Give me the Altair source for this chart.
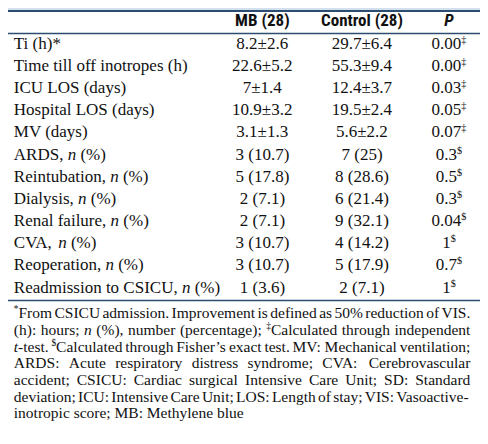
import re
import altair as alt
import pandas as pd

# ---------------- data ----------------
row_labels = [
    "Ti (h)*",
    "Time till off inotropes (h)",
    "ICU LOS (days)",
    "Hospital LOS (days)",
    "MV (days)",
    "ARDS, _n_ (%)",
    "Reintubation, _n_ (%)",
    "Dialysis, _n_ (%)",
    "Renal failure, _n_ (%)",
    "CVA, _n_ (%)",
    "Reoperation, _n_ (%)",
    "Readmission to CSICU, _n_ (%)",
]
mb_values = ["8.2±2.6", "22.6±5.2", "7±1.4", "10.9±3.2", "3.1±1.3", "3 (10.7)",
             "5 (17.8)", "2 (7.1)", "2 (7.1)", "3 (10.7)", "3 (10.7)", "1 (3.6)"]
control_values = ["29.7±6.4", "55.3±9.4", "12.4±3.7", "19.5±2.4", "5.6±2.2", "7 (25)",
                  "8 (28.6)", "6 (21.4)", "9 (32.1)", "4 (14.2)", "5 (17.9)", "2 (7.1)"]
p_values = ["0.00", "0.00", "0.03", "0.05", "0.07", "0.3", "0.5", "0.3", "0.04", "1", "0.7", "1"]
p_marks = ["‡", "‡", "‡", "‡", "‡", "$", "$", "$", "$", "$", "$", "$"]
header_cols = ["MB (28)", "Control (28)"]
header_p = "P"
footnote_lines = [
    "^*^From CSICU admission. Improvement is defined as 50% reduction of VIS.",
    "(h): hours; _n_ (%), number (percentage); ^‡^Calculated through independent",
    "_t_-test. ^$^Calculated through Fisher’s exact test. MV: Mechanical ventilation;",
    "ARDS: Acute respiratory distress syndrome; CVA: Cerebrovascular",
    "accident; CSICU: Cardiac surgical Intensive Care Unit; SD: Standard",
    "deviation; ICU: Intensive Care Unit; LOS: Length of stay; VIS: Vasoactive-",
    "inotropic score; MB: Methylene blue",
]

# ---------------- layout ----------------
W, H = 472, 428
SX, SY = 472 / 488, 428 / 444
LABEL_X = 6 * SX
TEXT_R = 478 * SX
COL_CX = [263 * SX, 366 * SX]
P_CX = 456 * SX
HEADER_Y = 14 * SY
ROW_Y0, ROW_STEP = 37 * SY, 23.0 * SY
NOTE_Y0, NOTE_STEP = 316.5 * SY, 17.35 * SY
BODY_SIZE, NOTE_SIZE, SUP_RATIO = 17, 15.5, 0.6
SERIF = "Liberation Serif, Times New Roman, serif"
HEAD_FONT = "Liberation Sans Narrow, Arial Narrow, Roboto Condensed, Liberation Sans, sans-serif"
INK = "#111111"
LINE = "#2c4d70"

# Times / Liberation Serif advance widths (per 1000 em)
TW = {" ": 250, "!": 333, "%": 833, "'": 333, "’": 333, "(": 333, ")": 333, "*": 500,
      ",": 250, "-": 333, ".": 250, ":": 278, ";": 278, "±": 564, "‡": 500, "$": 500, "§": 500,
      "A": 722, "B": 667, "C": 667, "D": 722, "E": 611, "F": 556, "G": 722, "H": 722, "I": 333,
      "J": 389, "K": 722, "L": 611, "M": 889, "N": 722, "O": 722, "P": 556, "Q": 722, "R": 667,
      "S": 556, "T": 611, "U": 722, "V": 722, "W": 944, "X": 722, "Y": 722, "Z": 611,
      "a": 444, "b": 500, "c": 444, "d": 500, "e": 444, "f": 333, "g": 500, "h": 500, "i": 278,
      "j": 278, "k": 500, "l": 278, "m": 778, "n": 500, "o": 500, "p": 500, "q": 500, "r": 333,
      "s": 389, "t": 278, "u": 500, "v": 500, "w": 722, "x": 500, "y": 500, "z": 444}


def tw(text, size):
    return sum(TW.get(ch, 500) for ch in text) * size / 1000.0


def parse(s):
    runs = []
    for part in re.split(r"(_[^_]+_|\^[^\^]+\^)", s):
        if not part:
            continue
        if part.startswith("_") and part.endswith("_"):
            runs.append((part[1:-1], "italic"))
        elif part.startswith("^") and part.endswith("^"):
            runs.append((part[1:-1], "sup"))
        else:
            runs.append((part, "normal"))
    return runs


def run_size(style, size):
    return size * SUP_RATIO if style == "sup" else size


def runs_width(runs, size):
    return sum(tw(t, run_size(st, size)) for t, st in runs)


def place(runs, x0, y, size, out):
    x = x0
    for t, st in runs:
        sz = run_size(st, size)
        lead = len(t) - len(t.lstrip(" "))
        x += lead * tw(" ", sz)
        core = t.strip(" ")
        if core:
            out.append({"x": x, "y": y, "text": core, "style": st, "size": sz})
        x += tw(core, sz)
        trail = len(t.lstrip(" ")) - len(core) if core else 0
        x += trail * tw(" ", sz)
    return x


items = []
for i, lab in enumerate(row_labels):
    y = ROW_Y0 + i * ROW_STEP
    place(parse(lab), LABEL_X, y, BODY_SIZE, items)
    for cx, val in zip(COL_CX, [mb_values[i], control_values[i]]):
        runs = parse(val)
        place(runs, cx - runs_width(runs, BODY_SIZE) / 2, y, BODY_SIZE, items)
    runs = [(p_values[i], "normal"), (p_marks[i], "sup")]
    place(runs, P_CX - runs_width(runs, BODY_SIZE) / 2, y, BODY_SIZE, items)

for k, line in enumerate(footnote_lines):
    y = NOTE_Y0 + k * NOTE_STEP
    words = [parse(w) for w in line.split(" ")]
    widths = [runs_width(w, NOTE_SIZE) for w in words]
    justify = k < len(footnote_lines) - 1
    gap = (TEXT_R - LABEL_X - sum(widths)) / (len(words) - 1) if justify else tw(" ", NOTE_SIZE)
    x = LABEL_X
    for w, wd in zip(words, widths):
        place(w, x, y, NOTE_SIZE, items)
        x += wd + gap

text_df = pd.DataFrame(items)
header_df = pd.DataFrame({
    "x": COL_CX + [P_CX],
    "y": [HEADER_Y] * 3,
    "text": header_cols + [header_p],
    "kind": ["col", "col", "p"],
})
rules_df = pd.DataFrame({
    "x": [0, 0, 0],
    "x2": [W, W, W],
    "y": [3 * SY, 26.5 * SY, 303.5 * SY],
    "w": [2.0, 1.6, 1.6],
})
band_df = pd.DataFrame({"x": [0], "x2": [W], "y": [0], "y2": [2.2 * SY]})

xs = alt.Scale(domain=[0, W], nice=False, zero=False)
ys = alt.Scale(domain=[0, H], nice=False, zero=False, reverse=True)
X = alt.X("x:Q", scale=xs, axis=None)
Y = alt.Y("y:Q", scale=ys, axis=None)

band = alt.Chart(band_df).mark_rect(color="#d3e0ee").encode(
    x=X, x2="x2:Q", y=Y, y2="y2:Q")
rules = alt.Chart(rules_df).mark_rule(color=LINE).encode(
    x=X, x2="x2:Q", y=Y, strokeWidth=alt.StrokeWidth("w:Q", scale=None, legend=None))


def text_layer(style, **kw):
    return alt.Chart(text_df).transform_filter(alt.datum.style == style).mark_text(
        align="left", baseline="middle", font=SERIF, color=INK, **kw
    ).encode(x=X, y=Y, text="text:N", size=alt.Size("size:Q", scale=None, legend=None))


normal = text_layer("normal")
italic = text_layer("italic", fontStyle="italic")
sup = text_layer("sup", dy=-4)

head_cols = alt.Chart(header_df).transform_filter(alt.datum.kind == "col").mark_text(
    align="center", baseline="middle", font=HEAD_FONT, fontWeight="bold", fontSize=17, color=INK
).encode(x=X, y=Y, text="text:N")
head_p = alt.Chart(header_df).transform_filter(alt.datum.kind == "p").mark_text(
    align="center", baseline="middle", font=HEAD_FONT, fontWeight="bold", fontStyle="italic",
    fontSize=17, color=INK
).encode(x=X, y=Y, text="text:N")

chart = alt.layer(band, rules, normal, italic, sup, head_cols, head_p).properties(
    width=W, height=H, padding=0, autosize=alt.AutoSizeParams(type="none"),
    background="white"
).configure_view(strokeWidth=0)

chart.save("out.html", embed_options={"renderer": "svg", "actions": False})
